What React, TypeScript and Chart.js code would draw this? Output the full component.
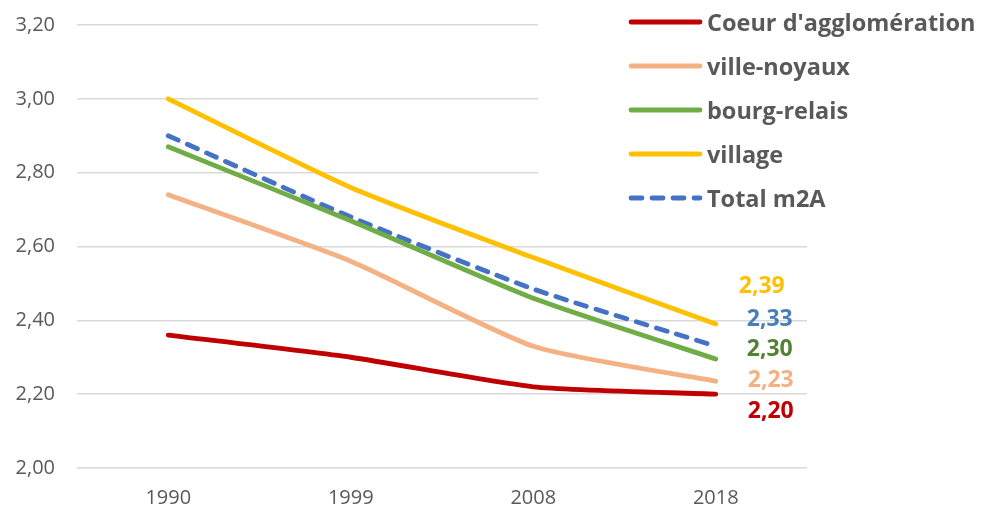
import React, { useEffect, useRef } from "react";
import { Chart, registerables } from "chart.js";

Chart.register(...registerables);

const categories = ["1990", "1999", "2008", "2018"];
const seriesNames = ["Coeur d'agglomération", "ville-noyaux", "bourg-relais", "village", "Total m2A"];
const coeur = [2.36, 2.3, 2.22, 2.2];
const villeNoyaux = [2.74, 2.56, 2.33, 2.235];
const bourgRelais = [2.87, 2.67, 2.46, 2.295];
const village = [3.0, 2.76, 2.57, 2.39];
const totalM2A = [2.9, 2.68, 2.485, 2.33];
const endLabels = ["2,20", "2,23", "2,30", "2,39", "2,33"];
const yTicks = [2.0, 2.2, 2.4, 2.6, 2.8, 3.0, 3.2];

const lineColors = ["#C00000", "#F4B183", "#70AD47", "#FFC000", "#4472C4"];
const labelColors = ["#C00000", "#F4B183", "#548235", "#FFC000", "#4A7EBB"];
const FONT = "'Open Sans', Lato, sans-serif";

export default function App() {
  const ref = useRef<HTMLCanvasElement | null>(null);
  useEffect(() => {
    document.body.style.margin = "0";
    const canvas = ref.current;
    if (!canvas) return;
    const values = [coeur, villeNoyaux, bourgRelais, village, totalM2A];

    const legendPlugin = {
      id: "customLegend",
      beforeDatasetsDraw(chart: any) {
        const ctx = chart.ctx;
        ctx.save();
        ctx.fillStyle = "#ffffff";
        ctx.fillRect(538, 0, 450, 226);
        for (let i = 0; i < 5; i++) {
          const y = 22 + i * 44;
          ctx.beginPath();
          ctx.lineWidth = 4.8;
          ctx.lineCap = "round";
          ctx.strokeStyle = lineColors[i];
          ctx.setLineDash(i === 4 ? [11, 10] : []);
          ctx.moveTo(631, y);
          ctx.lineTo(700, y);
          ctx.stroke();
          ctx.setLineDash([]);
          ctx.fillStyle = "#595959";
          ctx.font = `bold 23.5px ${FONT}`;
          ctx.textAlign = "left";
          ctx.textBaseline = "middle";
          ctx.fillText(seriesNames[i], 707, y + 2);
        }
        ctx.restore();
      },
    };

    const labelOffsets = [
      [32, 17],
      [32, -1],
      [31, -10],
      [23, -38],
      [31, -27],
    ];
    const labelPlugin = {
      id: "endLabels",
      afterDatasetsDraw(chart: any) {
        const ctx = chart.ctx;
        ctx.save();
        ctx.font = `bold 23px ${FONT}`;
        ctx.textAlign = "left";
        ctx.textBaseline = "middle";
        for (let i = 0; i < 5; i++) {
          const meta = chart.getDatasetMeta(i);
          const pt = meta.data[meta.data.length - 1];
          ctx.fillStyle = labelColors[i];
          ctx.fillText(endLabels[i], pt.x + labelOffsets[i][0], pt.y + labelOffsets[i][1]);
        }
        ctx.restore();
      },
    };

    const chart = new Chart(canvas, {
      type: "line",
      data: {
        labels: categories,
        datasets: values.map((v, i) => ({
          label: seriesNames[i],
          data: v,
          borderColor: lineColors[i],
          backgroundColor: lineColors[i],
          borderWidth: 4.8,
          borderCapStyle: "round",
          borderJoinStyle: "round",
          borderDash: i === 4 ? [11, 10] : [],
          pointRadius: 0,
          tension: 0.2,
          fill: false,
        })) as any,
      },
      options: {
        animation: false,
        responsive: false,
        layout: { padding: { top: 25, right: 181, left: 0, bottom: 0 } },
        plugins: { legend: { display: false }, tooltip: { enabled: false } },
        scales: {
          x: {
            offset: true,
            grid: { display: false, drawTicks: false },
            border: { display: false },
            ticks: { color: "#595959", font: { family: FONT, size: 20 }, padding: 18 },
            afterFit(scale: any) {
              scale.height = 41;
              scale.paddingLeft = 0;
              scale.paddingRight = 0;
            },
          },
          y: {
            min: 2,
            max: 3.2,
            afterBuildTicks(scale: any) {
              scale.ticks = yTicks.map((v) => ({ value: v }));
            },
            grid: { color: "#D9D9D9", lineWidth: 1.5, drawTicks: false },
            border: { display: false },
            ticks: {
              color: "#595959",
              font: { family: FONT, size: 20 },
              padding: 22,
              callback: (v: any) => Number(v).toFixed(2).replace(".", ","),
            },
            afterFit(scale: any) {
              scale.width = 77;
              scale.paddingTop = 0;
              scale.paddingBottom = 0;
            },
          },
        },
      },
      plugins: [legendPlugin, labelPlugin],
    });
    return () => chart.destroy();
  }, []);
  return <canvas ref={ref} width={988} height={509} style={{ display: "block" }} />;
}
